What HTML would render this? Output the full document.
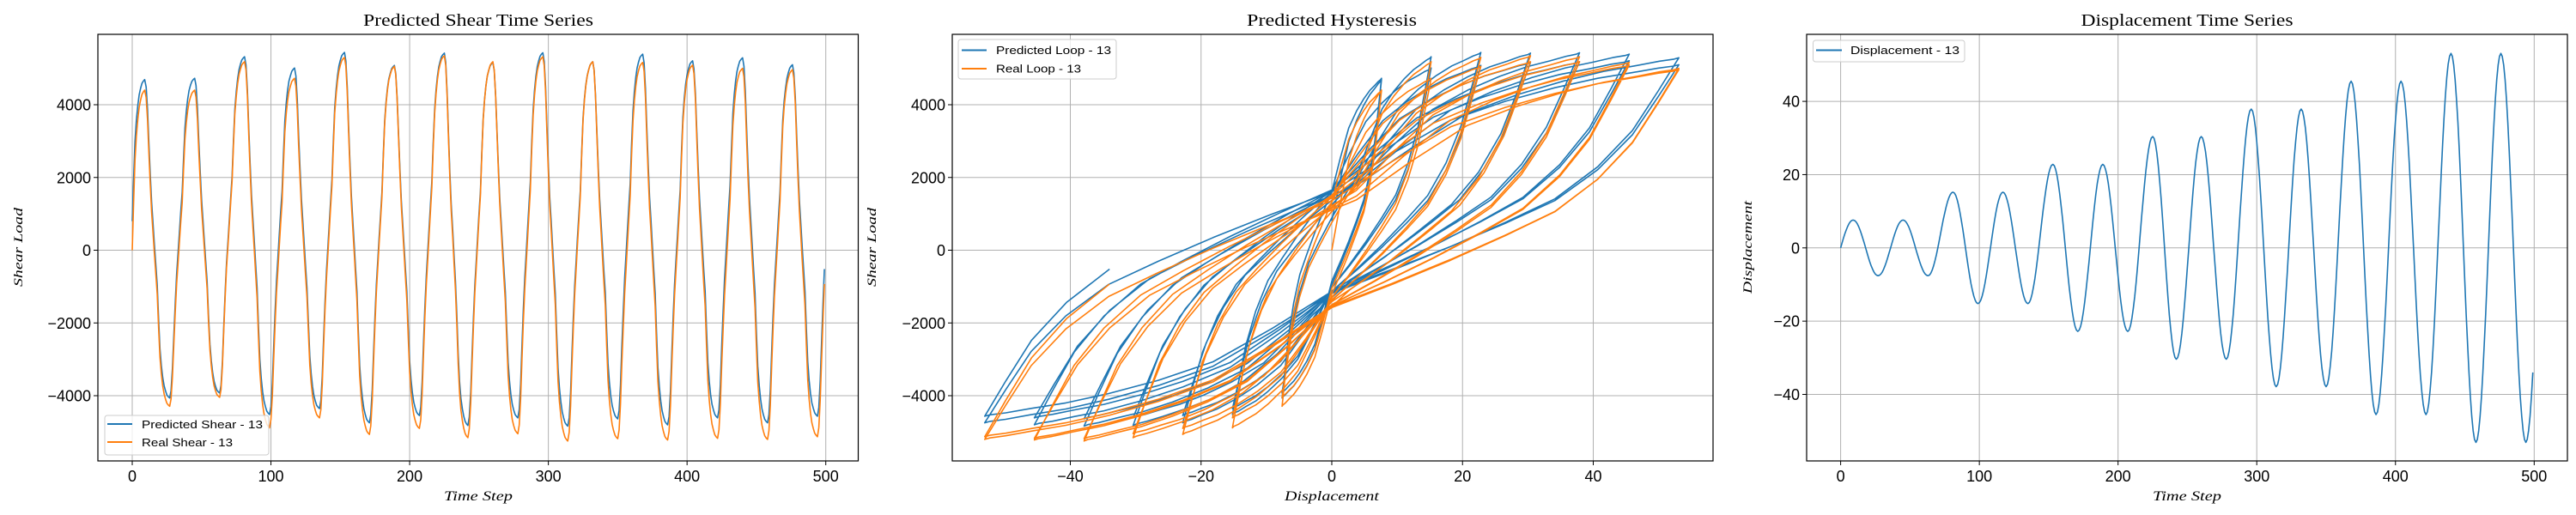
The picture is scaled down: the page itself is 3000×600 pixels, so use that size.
<!DOCTYPE html>
<html><head><meta charset="utf-8"><style>
html,body{margin:0;padding:0;background:#fff;}
svg{display:block;}
</style></head>
<body>
<svg id="fig" width="3000" height="600" viewBox="0 0 3000 600" xmlns="http://www.w3.org/2000/svg">
<defs>
<clipPath id="clipL"><rect x="114" y="40" width="885.5" height="497"/></clipPath>
<clipPath id="clipM"><rect x="1109" y="40" width="886" height="497"/></clipPath>
<clipPath id="clipR"><rect x="2104" y="40" width="886" height="497"/></clipPath>
</defs>
<g id="gridL"></g>
<g id="gridM"></g>
<g id="gridR"></g>
<g id="linesL" clip-path="url(#clipL)"></g>
<g id="linesM" clip-path="url(#clipM)"></g>
<g id="linesR" clip-path="url(#clipR)"></g>
<g id="axesG"></g>

<text x="557" y="30" text-anchor="middle" font-family="Liberation Serif, serif" font-size="20" textLength="268" lengthAdjust="spacingAndGlyphs">Predicted Shear Time Series</text>
<text x="1551" y="30" text-anchor="middle" font-family="Liberation Serif, serif" font-size="20" textLength="198" lengthAdjust="spacingAndGlyphs">Predicted Hysteresis</text>
<text x="2547" y="30" text-anchor="middle" font-family="Liberation Serif, serif" font-size="20" textLength="247" lengthAdjust="spacingAndGlyphs">Displacement Time Series</text>

<text x="557" y="583" text-anchor="middle" font-family="Liberation Serif, serif" font-style="italic" font-size="16" textLength="80" lengthAdjust="spacingAndGlyphs">Time Step</text>
<text x="1551" y="583" text-anchor="middle" font-family="Liberation Serif, serif" font-style="italic" font-size="16" textLength="110" lengthAdjust="spacingAndGlyphs">Displacement</text>
<text x="2547" y="583" text-anchor="middle" font-family="Liberation Serif, serif" font-style="italic" font-size="16" textLength="80" lengthAdjust="spacingAndGlyphs">Time Step</text>

<text transform="translate(26,288) rotate(-90)" text-anchor="middle" font-family="Liberation Serif, serif" font-style="italic" font-size="15" textLength="92" lengthAdjust="spacingAndGlyphs">Shear Load</text>
<text transform="translate(1020,288) rotate(-90)" text-anchor="middle" font-family="Liberation Serif, serif" font-style="italic" font-size="15" textLength="92" lengthAdjust="spacingAndGlyphs">Shear Load</text>
<text transform="translate(2040,288) rotate(-90)" text-anchor="middle" font-family="Liberation Serif, serif" font-style="italic" font-size="15" textLength="108" lengthAdjust="spacingAndGlyphs">Displacement</text>

<g>
<rect x="122" y="484" width="191" height="46" rx="3" fill="#fff" fill-opacity="0.8" stroke="#ccc" stroke-width="1"/>
<line x1="125" y1="494" x2="154" y2="494" stroke="#1f77b4" stroke-width="2"/>
<text x="165" y="499" font-family="Liberation Sans, sans-serif" font-size="13" textLength="141" lengthAdjust="spacingAndGlyphs">Predicted Shear - 13</text>
<line x1="125" y1="515" x2="154" y2="515" stroke="#ff7f0e" stroke-width="2"/>
<text x="165" y="520" font-family="Liberation Sans, sans-serif" font-size="13" textLength="106" lengthAdjust="spacingAndGlyphs">Real Shear - 13</text>
</g>
<g>
<rect x="1116" y="46" width="184" height="46" rx="3" fill="#fff" fill-opacity="0.8" stroke="#ccc" stroke-width="1"/>
<line x1="1120" y1="58.5" x2="1149" y2="58.5" stroke="#1f77b4" stroke-width="2"/>
<text x="1160" y="63" font-family="Liberation Sans, sans-serif" font-size="13" textLength="134" lengthAdjust="spacingAndGlyphs">Predicted Loop - 13</text>
<line x1="1120" y1="80" x2="1149" y2="80" stroke="#ff7f0e" stroke-width="2"/>
<text x="1160" y="84.5" font-family="Liberation Sans, sans-serif" font-size="13" textLength="99" lengthAdjust="spacingAndGlyphs">Real Loop - 13</text>
</g>
<g>
<rect x="2111.5" y="47" width="176.5" height="25" rx="3" fill="#fff" fill-opacity="0.8" stroke="#ccc" stroke-width="1"/>
<line x1="2115" y1="58.5" x2="2145" y2="58.5" stroke="#1f77b4" stroke-width="2"/>
<text x="2155" y="63" font-family="Liberation Sans, sans-serif" font-size="13" textLength="127" lengthAdjust="spacingAndGlyphs">Displacement - 13</text>
</g>
</svg>
<script>
// ---- data ----
const extremumSteps = [9,27,45,63,81,99,117,135,153,171,189,207,225,242,260,278,296,314,332,350,368,386,404,422,440,458,476,494];
const displacementExtrema = [7.6,-7.6,7.6,-7.6,15.2,-15.2,15.2,-15.2,22.8,-22.8,22.8,-22.8,30.4,-30.4,30.4,-30.4,37.9,-37.9,37.9,-37.9,45.5,-45.5,45.5,-45.5,53.1,-53.1,53.1,-53.1];
const predictedShearExtrema = [4691,-4064,4727,-3927,5318,-4518,5009,-4355,5436,-4745,5082,-4545,5418,-4818,5164,-4609,5427,-4836,5182,-4636,5391,-4800,5209,-4609,5291,-4745,5100,-4564];
const realShearExtrema = [4400,-4291,4400,-4045,5182,-4882,4727,-4609,5300,-5064,5055,-4900,5345,-5155,5182,-5045,5318,-5245,5182,-5182,5164,-5218,5091,-5173,5000,-5200,4964,-5127];
const seriesStart = {disp:0, pred:800, real:0};
const seriesEnd = {disp:-34, pred:-520, real:-930};
const lastStep = 499;
// shear transition profile between extrema (fraction of half-cycle -> fraction of swing)
const profileU = [0,0.06,0.11,0.167,0.223,0.28,0.35,0.42,0.5,0.56,0.62,0.7,0.79,0.9,1];
const profileF = [0,0.025,0.09,0.20,0.30,0.39,0.47,0.555,0.645,0.76,0.86,0.925,0.968,0.993,1];
const timeTicks = [0,100,200,300,400,500];
const shearTicks = [-4000,-2000,0,2000,4000];
const dispXTicks = [-40,-20,0,20,40];
const dispYTicks = [-40,-20,0,20,40];

// ---- scales ----
const xL = t => 154 + t*1.6154;
const yL = v => 291.5 - v*0.042375;
const xM = d => 1551 + d*7.6125;
const yM = yL;
const xR = t => 2143.6 + t*1.6154;
const yR = d => 288.8 - d*4.2675;

const NS = "http://www.w3.org/2000/svg";
function mk(tag, attrs, parent){ const e=document.createElementNS(NS,tag); for(const k in attrs) e.setAttribute(k,attrs[k]); parent.appendChild(e); return e; }

const cosShape = u => (1-Math.cos(Math.PI*u))/2;
const profileShape = u => {
  if(u<=0) return 0; if(u>=1) return 1;
  let i=0; while(profileU[i+1]<u) i++;
  const s=(u-profileU[i])/(profileU[i+1]-profileU[i]);
  return profileF[i]+(profileF[i+1]-profileF[i])*s;
};

function buildSeries(start, ext, end, shape){
  const ks = [[0,start]];
  ext.forEach((v,i)=>ks.push([extremumSteps[i],v]));
  ks.push([lastStep,end]);
  const half = (extremumSteps[extremumSteps.length-1]-extremumSteps[0])/(extremumSteps.length-1);
  const out=[];
  for(let t=0;t<=lastStep;t++){
    let i=0; while(i<ks.length-2 && t>ks[i+1][0]) i++;
    const [t0,a]=ks[i],[t1,b]=ks[i+1];
    const u=(t-t0)/(t1-t0);
    let u0=0,u1=1;
    if(i===0){ u0 = 1-(t1-t0)/half; }
    else if(i===ks.length-2){ u1=(t1-t0)/half; }
    const uu=u0+(u1-u0)*u;
    const f=(shape(uu)-shape(u0))/(shape(u1)-shape(u0));
    out.push(a+(b-a)*f);
  }
  return out;
}
const disp = buildSeries(seriesStart.disp, displacementExtrema, seriesEnd.disp, cosShape);
const pred = buildSeries(seriesStart.pred, predictedShearExtrema, seriesEnd.pred, profileShape);
const real = buildSeries(seriesStart.real, realShearExtrema, seriesEnd.real, profileShape);

function poly(pts, color, parent, name){
  const p = mk('polyline',{points:pts.map(q=>q[0].toFixed(1)+','+q[1].toFixed(1)).join(' '),fill:'none',stroke:color,'stroke-width':1.6,'stroke-linejoin':'round'},parent);
  
  
}
const steps = disp.map((_,i)=>i);
poly(steps.map(t=>[xL(t),yL(pred[t])]),'#1f77b4',document.getElementById('linesL'),'predicted-shear-line');
poly(steps.map(t=>[xL(t),yL(real[t])]),'#ff7f0e',document.getElementById('linesL'),'real-shear-line');
poly(steps.map(t=>[xM(disp[t]),yM(pred[t])]),'#1f77b4',document.getElementById('linesM'),'predicted-loop-line');
poly(steps.map(t=>[xM(disp[t]),yM(real[t])]),'#ff7f0e',document.getElementById('linesM'),'real-loop-line');
poly(steps.map(t=>[xR(t),yR(disp[t])]),'#1f77b4',document.getElementById('linesR'),'displacement-line');

const fmt = v => v<0 ? '\u2212'+Math.abs(v) : String(v);
function axis(gridId, x0, x1, y0, y1, xt, xs, yt, ys, prefix){
  const grid=document.getElementById(gridId), ax=document.getElementById('axesG');
  xt.forEach(v=>{
    const x=xs(v);
    const gl=mk('line',{x1:x,x2:x,y1:y0,y2:y1,stroke:'#b0b0b0','stroke-width':1},grid);
    
    
    mk('line',{x1:x,x2:x,y1:y1,y2:y1+5,stroke:'#000','stroke-width':1},ax);
    const tx=mk('text',{x:x,y:y1+24,'text-anchor':'middle','font-family':'Liberation Sans, sans-serif','font-size':18},ax);
    tx.textContent=fmt(v);
    
    
  });
  yt.forEach(v=>{
    const y=ys(v);
    const gl=mk('line',{x1:x0,x2:x1,y1:y,y2:y,stroke:'#b0b0b0','stroke-width':1},grid);
    
    
    mk('line',{x1:x0-5,x2:x0,y1:y,y2:y,stroke:'#000','stroke-width':1},ax);
    const tx=mk('text',{x:x0-8,y:y+6.5,'text-anchor':'end','font-family':'Liberation Sans, sans-serif','font-size':18},ax);
    tx.textContent=fmt(v);
    
    
  });
  const fr=mk('rect',{x:x0,y:y0,width:x1-x0,height:y1-y0,fill:'none',stroke:'#000','stroke-width':1.2},ax);
  
  
}
axis('gridL',114,999.5,40,537,timeTicks,xL,shearTicks,yL,'shear');
axis('gridM',1109,1995,40,537,dispXTicks,xM,shearTicks,yM,'hysteresis');
axis('gridR',2104,2990,40,537,timeTicks,xR,dispYTicks,yR,'displacement');
</script>
</body></html>
